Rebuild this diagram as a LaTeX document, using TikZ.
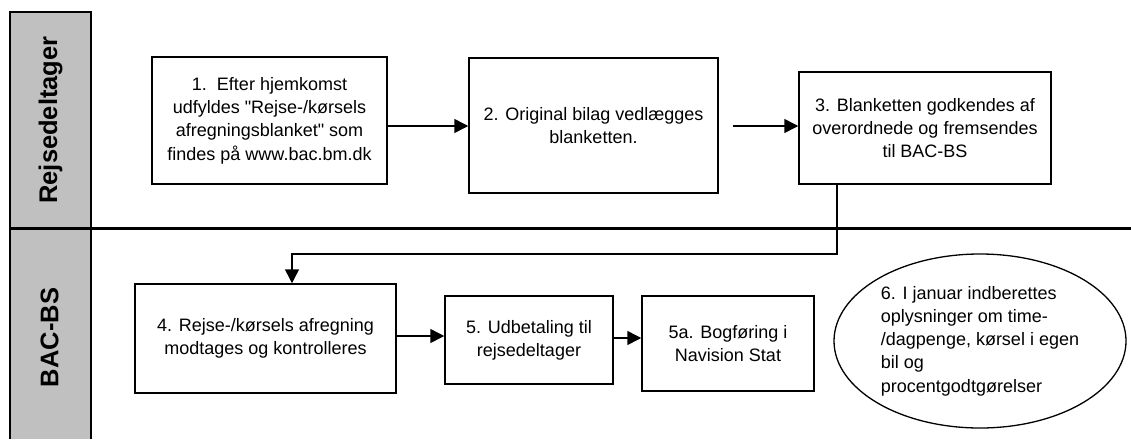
\documentclass[tikz,border=0pt]{standalone}
\usepackage{fontspec}
\setmainfont{Liberation Sans}
\usetikzlibrary{arrows.meta,shapes.geometric}
\definecolor{laneGray}{RGB}{192,192,192}

\begin{document}
\begin{tikzpicture}[x=1pt, y=-1pt,
  stepbox/.style={draw, rectangle, line width=1.5pt, align=center, inner sep=0pt,
    font=\fontsize{18}{23.3}\selectfont},
  noteoval/.style={draw, ellipse, line width=1.3pt, align=left, inner sep=0pt,
    font=\fontsize{18}{23.3}\selectfont},
  lanelabel/.style={rotate=90, font=\fontsize{25.5}{30}\selectfont\bfseries},
  flow/.style={line width=1.5pt, -{Triangle[length=14pt,width=14pt]}}]
  \useasboundingbox (0,0) rectangle (1131,439);
  % swimlanes
  \fill[laneGray] (10,12) rectangle (91,439);
  \draw[line width=2.5pt] (10,439) -- (10,12) -- (91,12) -- (91,439);
  \draw[line width=3pt] (10,228) -- (1131,228);
  \node[lanelabel] (lane1) at (50.5,120) {Rejsedeltager};
  \node[lanelabel] (lane2) at (49.5,337.5) {BAC-BS};
  % steps
  \node[stepbox, minimum width=235, minimum height=127] (b1) at (269.5,120.5)
    {1.\ \ Efter hjemkomst\\udfyldes \textquotedbl Rejse-/kørsels\\afregningsblanket\textquotedbl{} som\\findes på www.bac.bm.dk};
  \node[stepbox, minimum width=249, minimum height=135] (b2) at (593.5,125.5)
    {2. Original bilag vedlægges\\blanketten.};
  \node[stepbox, minimum width=252, minimum height=112] (b3) at (925,128)
    {3. Blanketten godkendes af\\overordnede og fremsendes\\til BAC-BS};
  \node[stepbox, minimum width=261, minimum height=109] (b4) at (265.5,338.5)
    {4. Rejse-/kørsels afregning\\modtages og kontrolleres};
  \node[stepbox, minimum width=168, minimum height=88] (b5) at (529,340)
    {5. Udbetaling til\\rejsedeltager};
  \node[stepbox, minimum width=172, minimum height=95] (b5a) at (728,343.5)
    {5a. Bogføring i\\Navision Stat};
  \node[noteoval, minimum width=292, minimum height=174] (b6) at (980,341)
    {6. I januar indberettes\\oplysninger om time-\\/dagpenge, kørsel i egen\\bil og\\procentgodtgørelser};
  % connectors
  \coordinate (a3) at (733,126);
  \coordinate (bend) at (837,254);
  \draw[flow] (b1.east |- a3) -- (b2.west |- a3);
  \draw[flow] (a3) -- (a3 -| b3.west);
  \draw[flow] (b3.south -| bend) -- (bend) -| ([xshift=26.5pt]b4.north);
  \draw[flow] ([yshift=2.5pt]b4.east) -- ([yshift=2.5pt]b4.east -| b5.west);
  \draw[flow] ([yshift=2pt]b5.east) -- ([yshift=2pt]b5.east -| b5a.west);
\end{tikzpicture}
\end{document}
